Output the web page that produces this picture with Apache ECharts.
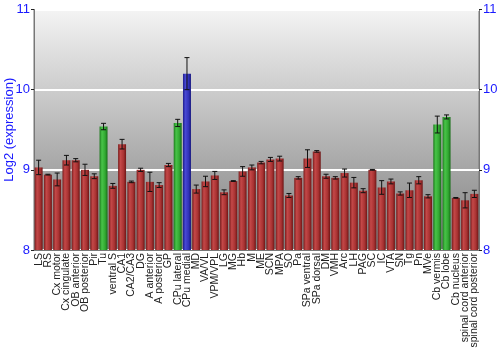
<!DOCTYPE html>
<html><head><meta charset="utf-8">
<script src="https://cdn.jsdelivr.net/npm/echarts@6/dist/echarts.min.js"></script>
<style>html,body{margin:0;padding:0;background:#fff}#c{width:500px;height:350px}</style>
</head><body><div id="c"></div>
<script>
var categories = ["LS","RS","Cx motor","Cx cingulate","OB anterior","OB posterior","Pir","Tu","ventral S","CA1","CA2/CA3","DG","A anterior","A posterior","GP","CPu lateral","CPu medial","MD","VA/VL","VPM/VPL","LG","MG","Hb","M","ME","SCN","MPA","SO","Pa","SPa ventral","SPa dorsal","DM","VMH","Arc","LH","PAG","SC","IC","VTA","SN","Tg","Pn","MVe","Cb vermis","Cb lobe","Cb nucleus","spinal cord anterior","spinal cord posterior"];
var values = [9.03,8.94,8.88,9.12,9.12,9.00,8.92,9.54,8.80,9.32,8.85,9.00,8.85,8.81,9.06,9.585,10.20,8.76,8.855,8.93,8.72,8.86,8.98,9.03,9.09,9.13,9.14,8.68,8.90,9.14,9.23,8.92,8.90,8.96,8.84,8.74,9.00,8.78,8.855,8.705,8.745,8.87,8.67,9.565,9.66,8.65,8.62,8.70];
var errors = [0.09,0.005,0.08,0.06,0.02,0.07,0.03,0.04,0.03,0.06,0.01,0.02,0.12,0.03,0.02,0.045,0.2,0.05,0.065,0.05,0.03,0.005,0.06,0.03,0.015,0.025,0.03,0.025,0.015,0.11,0.01,0.025,0.015,0.05,0.065,0.025,0.005,0.085,0.03,0.02,0.09,0.045,0.02,0.105,0.025,0.005,0.095,0.045];
var groups = ["r","r","r","r","r","r","r","g","r","r","r","r","r","r","r","g","b","r","r","r","r","r","r","r","r","r","r","r","r","r","r","r","r","r","r","r","r","r","r","r","r","r","r","g","g","r","r","r"];
var yTicks = [8, 9, 10, 11];

var palette = {
  r: ['#7a1c1c','#c44848','#a83232','#6e1616'],
  g: ['#1c7a1c','#48c448','#32a832','#166e16'],
  b: ['#1c1c8a','#4848d4','#3232b8','#16167e']
};
function grad(k){
  var p = palette[k];
  return new echarts.graphic.LinearGradient(0,0,1,0,[
    {offset:0,color:p[0]},{offset:0.3,color:p[1]},{offset:0.7,color:p[2]},{offset:1,color:p[3]}]);
}
var barData = values.map(function(v,i){ return {value:v, itemStyle:{color:grad(groups[i])}}; });
var errData = values.map(function(v,i){ return [i, v-errors[i], v+errors[i]]; });

var chart = echarts.init(document.getElementById('c'), null, {renderer:'canvas'});
var blue = '#1a1aff';
var yCommon = {
  type:'value', min:yTicks[0], max:yTicks[yTicks.length-1], interval:1,
  axisLine:{show:true, lineStyle:{color:'#777', width:1}},
  axisTick:{show:true, length:3, lineStyle:{color:'#222'}},
  axisLabel:{color:blue, fontSize:13, fontFamily:'Liberation Sans', margin:4},
  splitLine:{show:false}
};
chart.setOption({
  animation:false,
  grid:{left:34, right:21, top:9.5, bottom:100, outerBoundsMode:'none', containLabel:false, show:true, borderColor:'#777', borderWidth:1,
    backgroundColor:new echarts.graphic.LinearGradient(0,0,0,1,[{offset:0,color:'#f4f4f4'},{offset:1,color:'#7e7e7e'}])},
  xAxis:{type:'category', data:categories,
    axisLine:{show:true, lineStyle:{color:'#777'}}, axisTick:{show:false},
    axisLabel:{rotate:90, interval:0, fontSize:10.5, fontFamily:'Liberation Sans', color:'#222', margin:3}},
  yAxis:[
    Object.assign({}, yCommon, {position:'left', name:'Log2 (expression)', nameLocation:'middle', nameGap:18, nameMoveOverlap:false,
      nameTextStyle:{color:blue, fontSize:13, fontFamily:'Liberation Sans'},
      splitLine:{show:true, lineStyle:{color:'#ffffff', width:2}}}),
    Object.assign({}, yCommon, {position:'right'})
  ],
  series:[
    {type:'bar', data:barData, barWidth:'86%', yAxisIndex:0},
    {type:'custom', yAxisIndex:0, data:errData, z:5,
      renderItem:function(params, api){
        var x = api.value(0);
        var lo = api.coord([x, api.value(1)]);
        var hi = api.coord([x, api.value(2)]);
        var w = 2.5;
        var st = {stroke:'#111', lineWidth:1};
        return {type:'group', children:[
          {type:'line', shape:{x1:lo[0], y1:lo[1], x2:hi[0], y2:hi[1]}, style:st},
          {type:'line', shape:{x1:lo[0]-w, y1:lo[1], x2:lo[0]+w, y2:lo[1]}, style:st},
          {type:'line', shape:{x1:hi[0]-w, y1:hi[1], x2:hi[0]+w, y2:hi[1]}, style:st}
        ]};
      }}
  ]
});
</script></body></html>
